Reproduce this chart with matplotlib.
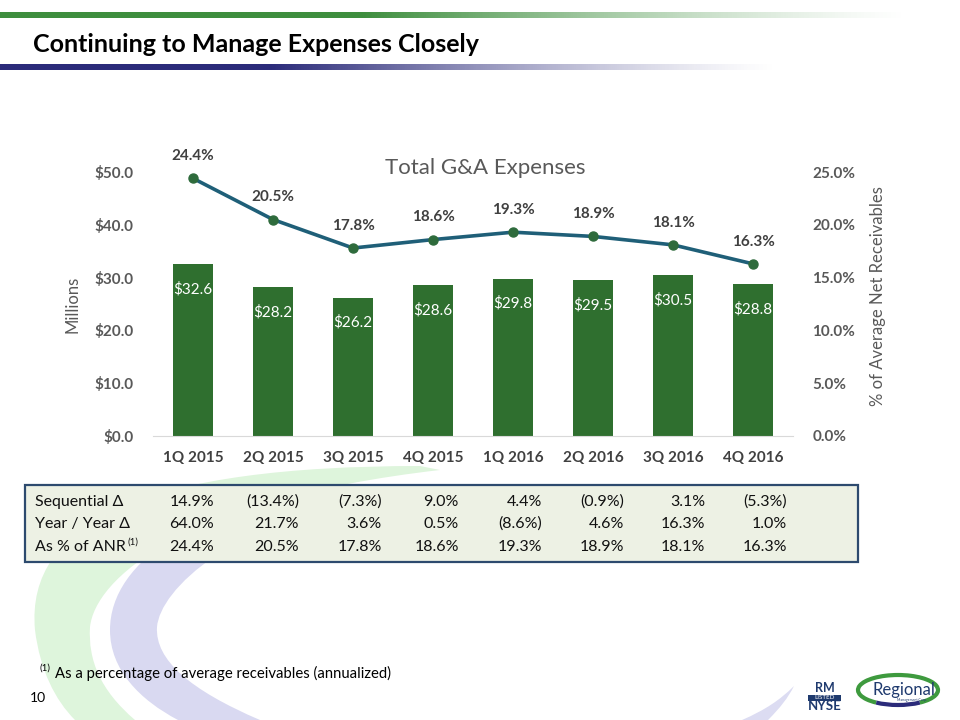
import matplotlib
matplotlib.use('Agg')  # no display
from matplotlib import pyplot as plt
from matplotlib.patches import Rectangle, PathPatch, Arc
from matplotlib.path import Path
from matplotlib.colors import to_rgb
import numpy as np

plt.rcParams['font.family'] = ['Lato', 'DejaVu Sans']

# data
quarters = ['1Q 2015', '2Q 2015', '3Q 2015', '4Q 2015', '1Q 2016', '2Q 2016', '3Q 2016', '4Q 2016']
expenses = [32.6, 28.2, 26.2, 28.6, 29.8, 29.5, 30.5, 28.8]          # $ millions
pct_anr = [24.4, 20.5, 17.8, 18.6, 19.3, 18.9, 18.1, 16.3]           # % of avg net receivables
seq_change = ['14.9%', '(13.4%)', '(7.3%)', '9.0%', '4.4%', '(0.9%)', '3.1%', '(5.3%)']
yoy_change = ['64.0%', '21.7%', '3.6%', '0.5%', '(8.6%)', '4.6%', '16.3%', '1.0%']
row_labels = ['Sequential \u0394', 'Year / Year \u0394', 'As % of ANR']
left_ticks = [0, 10, 20, 30, 40, 50]
right_ticks = [0, 5, 10, 15, 20, 25]

BAR_GREEN = '#2F6F2F'
LINE_BLUE = '#1F5F78'
DOT_GREEN = '#2E6B3C'
TICK_GRAY = '#595959'
LABEL_DARK = '#404040'
NAVY = '#1F3A6E'

fig = plt.figure(figsize=(9.6, 7.2), dpi=100)

# background layer in pixel coordinates
bg = fig.add_axes([0, 0, 1, 1], zorder=0)
bg.axis('off')


def gradient_bar(ax, x0, x1, y0, y1, color, solid=0.35):
    n = 500
    t = np.linspace(0, 1, n)
    alpha = np.clip((1 - t) / (1 - solid), 0, 1) ** 1.3
    rgba = np.zeros((1, n, 4))
    rgba[..., :3] = to_rgb(color)
    rgba[0, :, 3] = alpha
    ax.imshow(rgba, extent=(x0, x1, y1, y0), aspect='auto', interpolation='bilinear')


gradient_bar(bg, 0, 910, 12, 18, '#3E8E3E', solid=0.4)
gradient_bar(bg, 0, 780, 64, 70, '#2B2B7A', solid=0.35)


def swoosh(ax, verts, codes, color):
    ax.add_patch(PathPatch(Path(verts, codes), facecolor=color, edgecolor='none', zorder=1))


M, C4, L, CL = Path.MOVETO, Path.CURVE4, Path.LINETO, Path.CLOSEPOLY
# green swoosh
swoosh(bg,
       [(420, 466), (150, 466), (25, 520), (35, 630), (40, 670), (55, 700), (75, 720),
        (135, 720), (100, 690), (88, 660), (90, 627), (95, 580), (180, 500), (440, 470), (0, 0)],
       [M, C4, C4, C4, C4, C4, C4, L, C4, C4, C4, C4, C4, C4, CL], '#DEF5DC')
# lavender swoosh
swoosh(bg,
       [(360, 485), (200, 500), (110, 560), (110, 630), (110, 670), (140, 700), (178, 720),
        (260, 720), (190, 690), (155, 660), (157, 627), (160, 590), (230, 520), (400, 486), (0, 0)],
       [M, C4, C4, C4, C4, C4, C4, L, C4, C4, C4, C4, C4, C4, CL], '#D9D9F1')
swoosh(bg,
       [(794, 686), (780, 700), (765, 710), (742, 720), (768, 720), (780, 708), (788, 698), (794, 686), (0, 0)],
       [M, C4, C4, C4, L, C4, C4, C4, CL], '#DCDCF2')

bg.set_xlim(0, 960)
bg.set_ylim(720, 0)

bg.text(33, 44, 'Continuing to Manage Expenses Closely', fontsize=18, fontweight='bold',
        family=['Liberation Sans Narrow', 'Lato'], va='center', ha='left', color='black', zorder=3)

bg.text(485, 168, 'Total G&A Expenses', fontsize=16, color=TICK_GRAY, ha='center', va='center', zorder=3)

# data table box
bg.add_patch(Rectangle((25, 485), 833, 77, facecolor='#EDF1E4', edgecolor='#2D4A6E', lw=1.6, zorder=3))
col_right = [214, 299, 382, 459, 542, 624, 705, 787]
row_y = [502, 524, 547]
table_rows = [seq_change, yoy_change, [f'{v:.1f}%' for v in pct_anr]]
for y, label, vals in zip(row_y, row_labels, table_rows):
    bg.text(35, y, label, fontsize=11.5, color='#111111', va='center', ha='left', zorder=4)
    for x, v in zip(col_right, vals):
        bg.text(x, y, v, fontsize=11.5, color='#111111', va='center', ha='right', zorder=4)
bg.text(127, 542, '(1)', fontsize=7, color='#111111', va='center', ha='left', zorder=4)

# footnote and page number
bg.text(40, 668, '(1)', fontsize=7, color='black', va='center', ha='left', zorder=4)
bg.text(55, 673, 'As a percentage of average receivables (annualized)', fontsize=10.7,
        color='black', va='center', ha='left', zorder=4)
bg.text(30, 698, '10', fontsize=10, color='black', va='center', ha='left', zorder=4)

# logos (drawn as text/shapes)
bg.text(825, 688, 'RM', fontsize=9, fontweight='bold', color=NAVY, ha='center', va='center', zorder=4)
bg.add_patch(Rectangle((808, 694.5), 33, 6.5, facecolor=NAVY, edgecolor='none', zorder=4))
bg.text(824.5, 697.8, 'LISTED', fontsize=4.5, color='white', ha='center', va='center', zorder=5)
bg.text(825, 706.5, 'NYSE', fontsize=9.5, fontweight='bold', color=NAVY, ha='center', va='center', zorder=4)
bg.add_patch(Arc((898, 690), 80, 30, theta1=150, theta2=390, color='#3E9A3E', lw=3, zorder=4))
bg.add_patch(Arc((898, 690), 80, 30, theta1=30, theta2=150, color='#2B2B7A', lw=3, zorder=4))
bg.text(904, 690, 'Regional', fontsize=12, color=NAVY, family=['Liberation Sans Narrow', 'Lato'],
        ha='center', va='center', zorder=5)
bg.text(912, 700, 'Management Corp.', fontsize=2.5, color=NAVY, ha='center', va='center', zorder=5)

# main chart
ax = fig.add_axes([153 / 960, 1 - 436 / 720, 640 / 960, 264 / 720], zorder=2)
ax.patch.set_alpha(0)
x = np.arange(len(quarters))
ax.bar(x, expenses, width=0.5, color=BAR_GREEN, zorder=2)
for xi, v in zip(x, expenses):
    ax.annotate(f'${v:.1f}', (xi, v), xytext=(0, -18), textcoords='offset points',
                ha='center', va='center', color='white', fontsize=11)
ax.set_xlim(-0.5, len(quarters) - 0.5)
ax.set_ylim(0, 50)
ax.set_yticks(left_ticks)
ax.set_yticklabels([f'${v:.1f}' for v in left_ticks])
ax.set_xticks(x)
ax.set_xticklabels(quarters)
for s in ['top', 'left', 'right']:
    ax.spines[s].set_visible(False)
ax.spines['bottom'].set_color('#D9D9D9')
ax.tick_params(axis='y', length=0, pad=14, labelsize=11, labelcolor=TICK_GRAY)
ax.tick_params(axis='x', length=0, pad=11, labelsize=11, labelcolor=LABEL_DARK)
for lbl in ax.get_yticklabels() + ax.get_xticklabels():
    lbl.set_fontweight('bold')
ax.set_ylabel('Millions', fontsize=12, color=TICK_GRAY)
ax.yaxis.set_label_coords(-0.113, 0.5)

ax2 = ax.twinx()
ax2.set_ylim(0, 25)
ax2.plot(x, pct_anr, color=LINE_BLUE, lw=2.6, marker='o', ms=6.5, mfc=DOT_GREEN, mec=DOT_GREEN,
         clip_on=False, zorder=3)
for xi, v in zip(x, pct_anr):
    ax2.annotate(f'{v:.1f}%', (xi, v), xytext=(0, 16), textcoords='offset points',
                 ha='center', va='center', color=LABEL_DARK, fontsize=11, fontweight='bold')
ax2.set_yticks(right_ticks)
ax2.set_yticklabels([f'{v:.1f}%' for v in right_ticks])
for s in ['top', 'left', 'right', 'bottom']:
    ax2.spines[s].set_visible(False)
ax2.tick_params(axis='y', length=0, pad=14, labelsize=11, labelcolor=TICK_GRAY)
for lbl in ax2.get_yticklabels():
    lbl.set_fontweight('bold')
ax2.set_ylabel('% of Average Net Receivables', fontsize=12, color=TICK_GRAY)
ax2.yaxis.set_label_coords(1.12, 0.53)

fig.savefig('out.png', dpi=100, facecolor='white')
